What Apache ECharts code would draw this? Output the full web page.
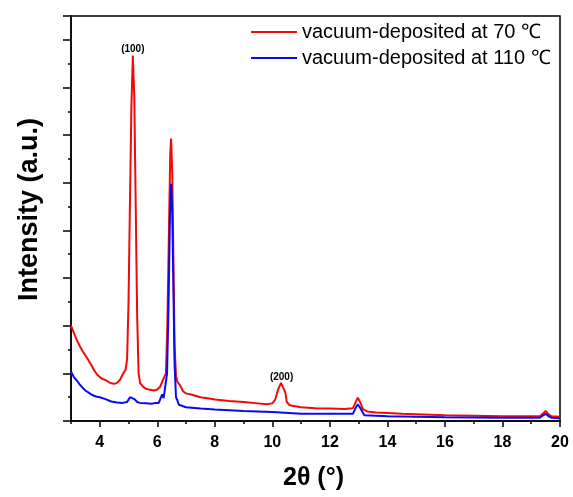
<!DOCTYPE html>
<html>
<head>
<meta charset="utf-8">
<script src="https://cdn.jsdelivr.net/npm/echarts@6/dist/echarts.min.js"></script>
<style>html,body{margin:0;padding:0;background:#fff}#c{width:573px;height:497px}</style>
</head>
<body>
<div id="c"></div>
<script>
var seriesNames = ['vacuum-deposited at 70 ℃', 'vacuum-deposited at 110 ℃'];
var majorXTicks = [4, 6, 8, 10, 12, 14, 16, 18, 20];
var minorXTicks = [3, 5, 7, 9, 11, 13, 15, 17, 19];
var red70 = [
 [3.0,2.0],[3.1,1.85],[3.2,1.7],[3.3,1.58],[3.4,1.47],[3.5,1.38],[3.6,1.28],[3.7,1.18],[3.8,1.07],[3.9,0.98],
 [4.0,0.92],[4.1,0.88],[4.2,0.86],[4.3,0.82],[4.4,0.79],[4.5,0.78],[4.6,0.8],[4.7,0.86],[4.8,0.98],[4.9,1.08],
 [4.95,1.3],[5.0,2.5],[5.05,4.6],[5.1,6.6],[5.15,7.67],[5.2,6.8],[5.25,4.5],[5.3,2.2],[5.35,1.0],[5.4,0.8],
 [5.5,0.72],[5.6,0.68],[5.7,0.66],[5.8,0.65],[5.9,0.64],[6.0,0.66],[6.1,0.72],[6.2,0.87],[6.25,0.86],[6.3,1.0],
 [6.35,2.0],[6.4,3.8],[6.45,5.6],[6.48,5.93],[6.52,5.2],[6.56,3.4],[6.6,1.6],[6.65,0.95],[6.7,0.82],[6.75,0.82],
 [6.8,0.74],[6.9,0.62],[7.0,0.58],[7.2,0.55],[7.5,0.5],[7.8,0.47],[8.0,0.45],[8.5,0.42],[9.0,0.4],[9.5,0.37],
 [9.8,0.35],[10.0,0.37],[10.1,0.45],[10.2,0.66],[10.3,0.8],[10.35,0.79],[10.45,0.6],[10.5,0.4],[10.6,0.33],[10.8,0.31],
 [11.0,0.29],[11.5,0.27],[12.0,0.26],[12.5,0.25],[12.8,0.27],[12.9,0.4],[12.97,0.49],[13.05,0.4],[13.15,0.25],[13.3,0.2],
 [13.6,0.18],[14.0,0.17],[14.5,0.15],[15.0,0.14],[16.0,0.12],[17.0,0.11],[18.0,0.1],[19.3,0.1],[19.4,0.15],[19.5,0.21],
 [19.6,0.14],[19.7,0.1],[20.0,0.09]
];
var blue110 = [
 [3.0,1.04],[3.1,0.92],[3.2,0.85],[3.3,0.77],[3.4,0.7],[3.5,0.64],[3.6,0.6],[3.7,0.56],[3.8,0.53],[3.9,0.51],
 [4.0,0.5],[4.2,0.46],[4.4,0.41],[4.6,0.39],[4.8,0.38],[4.95,0.4],[5.05,0.5],[5.1,0.52],[5.2,0.46],[5.3,0.4],
 [5.4,0.38],[5.6,0.37],[5.8,0.36],[5.95,0.38],[6.0,0.42],[6.05,0.38],[6.1,0.4],[6.17,0.56],[6.22,0.48],[6.28,0.44],
 [6.34,1.0],[6.39,2.4],[6.44,4.3],[6.48,4.98],[6.52,4.4],[6.56,2.8],[6.6,1.2],[6.65,0.5],[6.7,0.43],[6.75,0.34],
 [6.8,0.31],[7.0,0.29],[7.5,0.26],[8.0,0.24],[9.0,0.21],[10.0,0.19],[11.0,0.15],[12.0,0.15],[12.8,0.15],[12.9,0.28],
 [12.97,0.35],[13.05,0.28],[13.2,0.12],[14.0,0.1],[15.0,0.09],[16.0,0.08],[17.0,0.075],[18.0,0.07],[19.3,0.07],[19.4,0.11],
 [19.5,0.15],[19.6,0.1],[19.7,0.07],[20.0,0.06]
];
var peakLabels = [{name:'(100)', coord:[5.15,7.67]}, {name:'(200)', coord:[10.32,0.8]}];

var chart = echarts.init(document.getElementById('c'), null, {renderer:'canvas'});
var fontFam = 'Liberation Sans, Arial, sans-serif';
chart.setOption({
  animation: false,
  backgroundColor: '#fff',
  grid: {left: 71, top: 16, right: 13, bottom: 76, show: true, borderColor: '#000', borderWidth: 1.5, containLabel: false},
  legend: {
    orient: 'vertical', left: 251, top: 22, padding: 0, itemWidth: 46, itemHeight: 20, itemGap: 6,
    icon: 'path://M0 0H100V4H0Z',
    textStyle: {fontFamily: fontFam, fontSize: 20, color: '#000', lineHeight: 20},
    data: seriesNames
  },
  xAxis: [{
    type: 'value', min: 3, max: 20, position: 'bottom',
    name: '2θ (°)', nameLocation: 'middle', nameGap: 45,
    nameTextStyle: {fontFamily: fontFam, fontSize: 25, fontWeight: 'bold', color: '#000', padding: [0,4,0,0]},
    axisLine: {show: true, onZero: false, lineStyle: {color: '#000', width: 1.5}},
    axisTick: {show: true, length: 6, customValues: majorXTicks, lineStyle: {color: '#000', width: 1.5}},
    axisLabel: {show: true, customValues: majorXTicks, margin: 14, fontFamily: fontFam, fontSize: 16, fontWeight: 'bold', color: '#000'},
    splitLine: {show: false}
  }, {
    type: 'value', min: 3, max: 20, position: 'bottom',
    axisLine: {show: false},
    axisTick: {show: true, length: 3, customValues: minorXTicks, lineStyle: {color: '#000', width: 1.5}},
    axisLabel: {show: false},
    splitLine: {show: false}
  }],
  yAxis: {
    type: 'value', min: 0, max: 8.5, interval: 1,
    name: 'Intensity (a.u.)', nameLocation: 'middle', nameGap: 28,
    nameTextStyle: {fontFamily: fontFam, fontSize: 27, fontWeight: 'bold', color: '#000', padding: [0,0,0,18]},
    axisLine: {show: true, lineStyle: {color: '#000', width: 1.5}},
    axisTick: {show: true, length: 8, lineStyle: {color: '#000', width: 1.5}},
    minorTick: {show: true, splitNumber: 2, length: 3, lineStyle: {color: '#000', width: 1.5}},
    axisLabel: {show: false},
    splitLine: {show: false}
  },
  series: [{
    name: seriesNames[0], type: 'line', data: red70, symbol: 'none', smooth: false,
    lineStyle: {color: '#f00a0a', width: 2}, itemStyle: {color: '#f00a0a'}, z: 2,
    markPoint: {
      symbol: 'circle', symbolSize: 0, silent: true,
      label: {show: true, position: 'top', distance: 1, formatter: '{b}', fontFamily: fontFam, fontSize: 10, fontWeight: 'bold', color: '#000'},
      data: peakLabels
    }
  }, {
    name: seriesNames[1], type: 'line', data: blue110, symbol: 'none', smooth: false,
    lineStyle: {color: '#0a0aee', width: 2}, itemStyle: {color: '#0a0aee'}, z: 3
  }]
});
</script>
</body>
</html>
